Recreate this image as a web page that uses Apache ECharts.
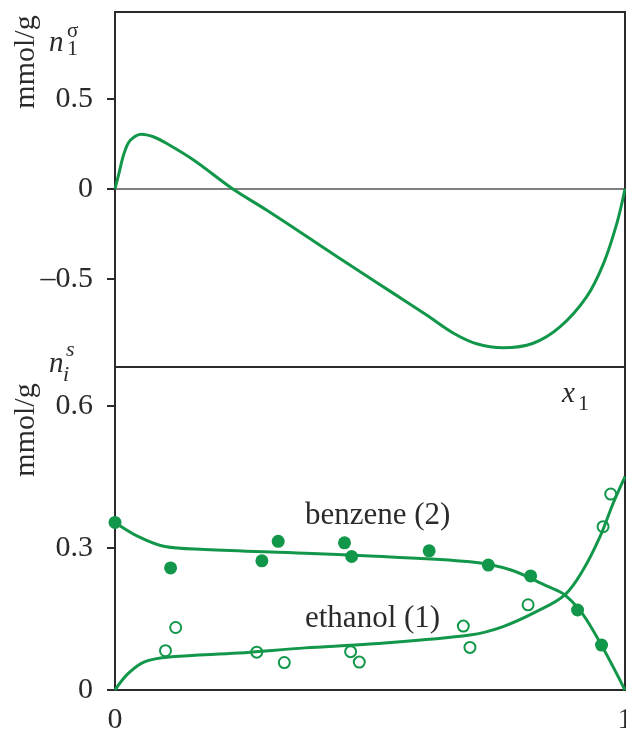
<!DOCTYPE html>
<html>
<head>
<meta charset="utf-8">
<script src="https://cdn.jsdelivr.net/npm/echarts@6/dist/echarts.min.js"></script>
<style>
  html, body { margin: 0; padding: 0; background: #fff; }
  #chart { width: 626px; height: 734px; }
</style>
</head>
<body>
<div id="chart"></div>
<script>
// top panel: excess adsorption n1^sigma vs x1
const excessX = [0, 0.008, 0.018, 0.03, 0.052, 0.075, 0.095, 0.154, 0.229, 0.297, 0.39, 0.48, 0.546, 0.611, 0.663, 0.709, 0.761, 0.82, 0.873, 0.925, 0.958, 0.984, 1.0]
const excessY = [0, 0.09, 0.2, 0.27, 0.304, 0.29, 0.263, 0.161, 0.004, -0.117, -0.29, -0.459, -0.58, -0.70, -0.80, -0.86, -0.882, -0.857, -0.765, -0.598, -0.413, -0.191, 0]

// bottom panel: fitted curves
const benzeneLineX = [0, 0.046, 0.098, 0.176, 0.373, 0.5, 0.696, 0.775, 0.846, 0.882, 0.925, 1.0]
const benzeneLineY = [0.354, 0.324, 0.303, 0.297, 0.289, 0.283, 0.271, 0.254, 0.22, 0.201, 0.148, 0]
const ethanolLineX = [0, 0.026, 0.059, 0.111, 0.242, 0.373, 0.5, 0.696, 0.761, 0.827, 0.882, 0.918, 0.951, 0.977, 1.0]
const ethanolLineY = [0, 0.035, 0.06, 0.07, 0.078, 0.089, 0.097, 0.116, 0.134, 0.166, 0.201, 0.254, 0.324, 0.395, 0.451]

// bottom panel: measured points
const benzeneX = [0, 0.109, 0.288, 0.32, 0.45, 0.464, 0.616, 0.732, 0.815, 0.907, 0.954]
const benzeneY = [0.354, 0.258, 0.273, 0.314, 0.311, 0.282, 0.294, 0.264, 0.241, 0.169, 0.095]
const ethanolX = [0.099, 0.119, 0.278, 0.332, 0.462, 0.479, 0.683, 0.696, 0.81, 0.957, 0.972]
const ethanolY = [0.083, 0.132, 0.08, 0.058, 0.081, 0.059, 0.135, 0.09, 0.18, 0.345, 0.414]

const topTicks = [-0.5, 0, 0.5]
const bottomTicks = [0, 0.3, 0.6]
const xTicks = [0, 1]

const green = '#12974a'
const ink = '#2b2b2b'
const serif = '"Liberation Serif", "DejaVu Serif", serif'

const zip = (xs, ys) => xs.map((x, i) => [x, ys[i]])
const fmt = v => v < 0 ? '\u2013' + (-v) : String(v)

const chart = echarts.init(document.getElementById('chart'), null, { renderer: 'canvas' })

const yAxisBase = {
  type: 'value',
  axisLine: { show: true, lineStyle: { color: ink, width: 2 } },
  axisTick: { show: true, inside: false, length: 8, lineStyle: { color: ink, width: 2 } },
  axisLabel: { fontFamily: serif, fontSize: 30, color: ink, margin: 22, formatter: fmt },
  splitLine: { show: false }
}

const option = {
  backgroundColor: '#fff',
  animation: false,
  grid: [
    { left: 115, right: 1, top: 12, height: 355, show: true, borderColor: ink, borderWidth: 2,
      containLabel: false, outerBoundsMode: 'none' },
    { left: 115, right: 1, top: 367, height: 323, show: true, borderColor: ink, borderWidth: 2,
      containLabel: false, outerBoundsMode: 'none' }
  ],
  xAxis: [
    {
      type: 'value', gridIndex: 0, min: 0, max: 1,
      axisLine: { show: true, onZero: true, lineStyle: { color: '#555', width: 1.5 } },
      axisTick: { show: false },
      axisLabel: { show: false },
      splitLine: { show: false }
    },
    {
      type: 'value', gridIndex: 1, min: 0, max: 1,
      axisLine: { show: true, lineStyle: { color: ink, width: 2 } },
      axisTick: { show: false },
      axisLabel: { fontFamily: serif, fontSize: 30, color: ink, margin: 15, customValues: xTicks },
      splitLine: { show: false }
    }
  ],
  yAxis: [
    Object.assign({}, yAxisBase, {
      gridIndex: 0, min: -0.989, max: 0.983,
      axisTick: Object.assign({}, yAxisBase.axisTick, { customValues: topTicks }),
      axisLabel: Object.assign({}, yAxisBase.axisLabel, { customValues: topTicks })
    }),
    Object.assign({}, yAxisBase, {
      gridIndex: 1, min: 0, max: 0.6824,
      axisTick: Object.assign({}, yAxisBase.axisTick, { customValues: bottomTicks }),
      axisLabel: Object.assign({}, yAxisBase.axisLabel, { customValues: bottomTicks })
    })
  ],
  series: [
    {
      name: 'n1 sigma', type: 'line', xAxisIndex: 0, yAxisIndex: 0,
      data: zip(excessX, excessY), smooth: 0.35, showSymbol: false,
      lineStyle: { color: green, width: 3 }
    },
    {
      name: 'benzene fit', type: 'line', xAxisIndex: 1, yAxisIndex: 1,
      data: zip(benzeneLineX, benzeneLineY), smooth: 0.35, showSymbol: false,
      lineStyle: { color: green, width: 3 }
    },
    {
      name: 'ethanol fit', type: 'line', xAxisIndex: 1, yAxisIndex: 1,
      data: zip(ethanolLineX, ethanolLineY), smooth: 0.35, showSymbol: false,
      lineStyle: { color: green, width: 3 }
    },
    {
      name: 'benzene (2)', type: 'scatter', xAxisIndex: 1, yAxisIndex: 1,
      data: zip(benzeneX, benzeneY), symbol: 'circle', symbolSize: 13,
      itemStyle: { color: green, opacity: 1 }
    },
    {
      name: 'ethanol (1)', type: 'scatter', xAxisIndex: 1, yAxisIndex: 1,
      data: zip(ethanolX, ethanolY), symbol: 'circle', symbolSize: 11,
      itemStyle: { color: 'rgba(255,255,255,0)', borderColor: green, borderWidth: 2, opacity: 1 }
    }
  ],
  graphic: [
    // axis titles
    { type: 'text', x: 26, y: 62, rotation: Math.PI / 2,
      style: { text: 'mmol/g', font: '30px ' + serif, fill: ink, align: 'center', verticalAlign: 'middle' } },
    { type: 'text', x: 26, y: 430, rotation: Math.PI / 2,
      style: { text: 'mmol/g', font: '30px ' + serif, fill: ink, align: 'center', verticalAlign: 'middle' } },
    // n1^sigma
    { type: 'text', x: 49, y: 43,
      style: { text: 'n', font: 'italic 29px ' + serif, fill: ink, align: 'left', verticalAlign: 'middle' } },
    { type: 'text', x: 67, y: 31,
      style: { text: 'σ', font: '21px ' + serif, fill: ink, align: 'left', verticalAlign: 'middle' } },
    { type: 'text', x: 67, y: 49,
      style: { text: '1', font: '22px ' + serif, fill: ink, align: 'left', verticalAlign: 'middle' } },
    // n_i^s
    { type: 'text', x: 49, y: 364,
      style: { text: 'n', font: 'italic 29px ' + serif, fill: ink, align: 'left', verticalAlign: 'middle' } },
    { type: 'text', x: 66, y: 350,
      style: { text: 's', font: 'italic 22px ' + serif, fill: ink, align: 'left', verticalAlign: 'middle' } },
    { type: 'text', x: 63, y: 375,
      style: { text: 'i', font: 'italic 22px ' + serif, fill: ink, align: 'left', verticalAlign: 'middle' } },
    // x1
    { type: 'text', x: 562, y: 394,
      style: { text: 'x', font: 'italic 29px ' + serif, fill: ink, align: 'left', verticalAlign: 'middle' } },
    { type: 'text', x: 578, y: 404,
      style: { text: '1', font: '22px ' + serif, fill: ink, align: 'left', verticalAlign: 'middle' } },
    // curve labels
    { type: 'text', x: 305, y: 516,
      style: { text: 'benzene (2)', font: '31px ' + serif, fill: ink, align: 'left', verticalAlign: 'middle' } },
    { type: 'text', x: 305, y: 619,
      style: { text: 'ethanol (1)', font: '31px ' + serif, fill: ink, align: 'left', verticalAlign: 'middle' } }
  ]
}

chart.setOption(option)
</script>
</body>
</html>
